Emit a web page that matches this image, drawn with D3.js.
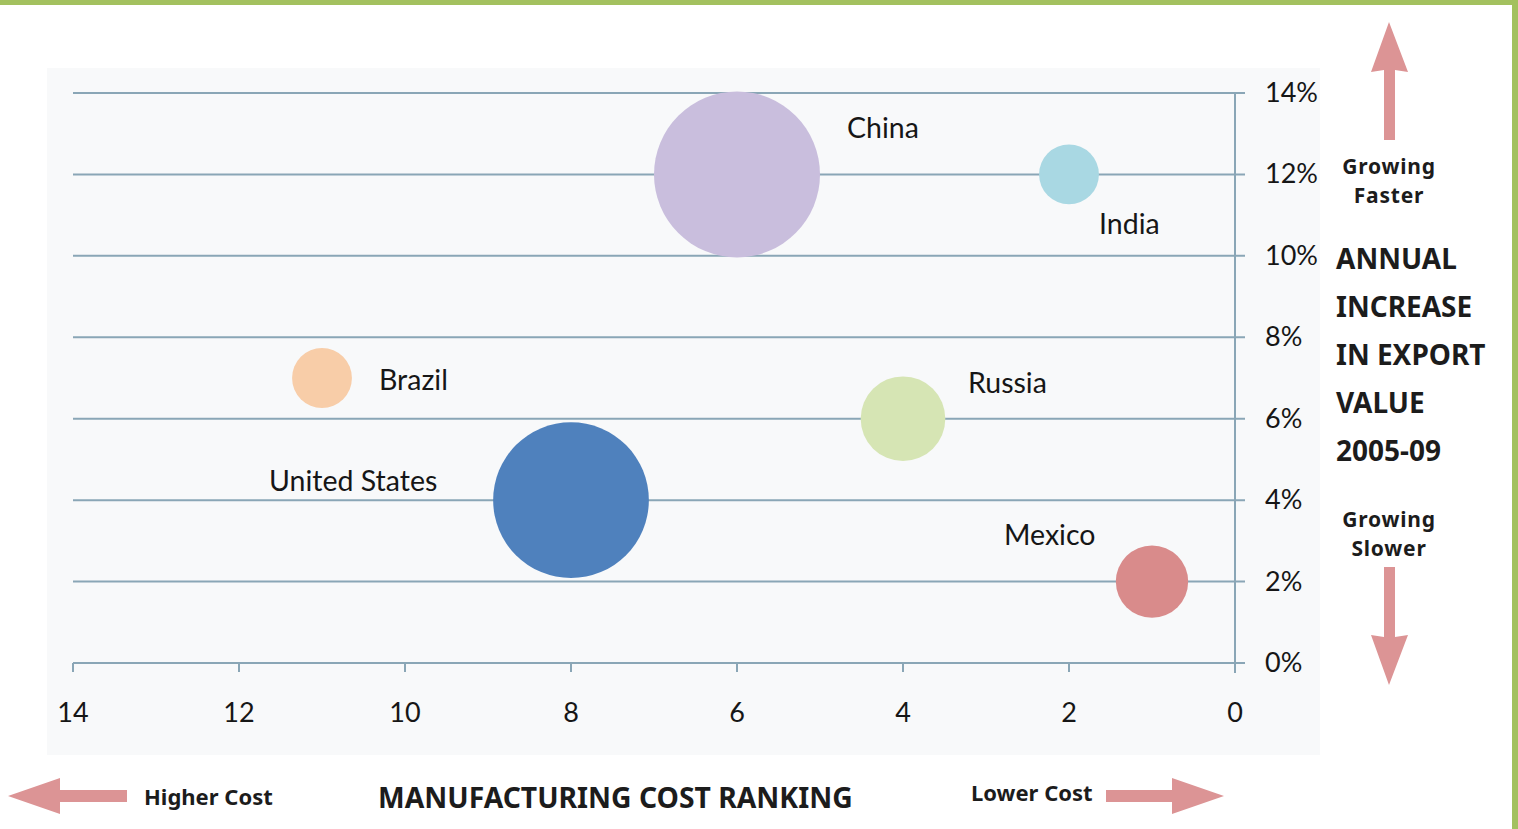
<!DOCTYPE html>
<html>
<head>
<meta charset="utf-8">
<script src="https://cdn.jsdelivr.net/npm/d3@7"></script>
<style>
  body { margin: 0; background: #fff; }
  svg { display: block; }
</style>
</head>
<body>
<script>
// bubble chart: manufacturing cost ranking vs export growth

const countries = ['China', 'India', 'Brazil', 'Russia', 'United States', 'Mexico']
const costRank = [6, 2, 11, 4, 8, 1]
const exportGrowth = [12, 12, 7, 6, 4, 2]
const bubbleSize = [100, 13, 13, 26, 88, 19]
const colors = ['#c9bedd', '#a9d8e3', '#f8cda8', '#d6e5b4', '#4f81bd', '#d98b8b']
const xTicks = [14, 12, 10, 8, 6, 4, 2, 0]
const yTicks = [0, 2, 4, 6, 8, 10, 12, 14]
// label offsets from the bubble centre
const labelDx = [110, 30, 57, 65, -302, -148]
const labelDy = [-36, 60, 12, -26, -9, -37]

const W = 1518, H = 829
const svg = d3.select('body').append('svg').attr('width', W).attr('height', H)

const green = '#a3c15f'
const pink = '#dc9495'
const grid = '#8aa6b6'

// frame
svg.append('rect').attr('x', 0).attr('y', 0).attr('width', W).attr('height', 5).attr('fill', green)
svg.append('rect').attr('x', 1512).attr('y', 0).attr('width', 6).attr('height', H).attr('fill', green)

// plot background
svg.append('rect').attr('x', 47).attr('y', 68).attr('width', 1273).attr('height', 687).attr('fill', '#f8f9fa')

const x = d3.scaleLinear().domain([14, 0]).range([73, 1235])
const y = d3.scaleLinear().domain([0, 14]).range([663, 93])
const r = d3.scaleSqrt().domain([0, d3.max(bubbleSize)]).range([0, 83])

// horizontal gridlines
svg.append('g').selectAll('line').data(yTicks).enter().append('line')
  .attr('x1', x(14)).attr('x2', x(0) + 10)
  .attr('y1', d => y(d)).attr('y2', d => y(d))
  .attr('stroke', grid).attr('stroke-width', 2)

// y axis line
svg.append('line').attr('x1', x(0)).attr('x2', x(0)).attr('y1', y(14)).attr('y2', y(0) + 10)
  .attr('stroke', grid).attr('stroke-width', 2)

// x ticks
svg.append('g').selectAll('line').data(xTicks).enter().append('line')
  .attr('x1', d => x(d)).attr('x2', d => x(d))
  .attr('y1', y(0)).attr('y2', y(0) + 9)
  .attr('stroke', grid).attr('stroke-width', 2)

const tickFont = 'Lato, "Open Sans", sans-serif'
svg.append('g').selectAll('text').data(yTicks).enter().append('text')
  .attr('x', 1265).attr('y', d => y(d) + 9)
  .attr('font-family', tickFont).attr('font-size', 27).attr('fill', '#161616')
  .text(d => d + '%')

svg.append('g').selectAll('text').data(xTicks).enter().append('text')
  .attr('x', d => x(d)).attr('y', y(0) + 59)
  .attr('text-anchor', 'middle')
  .attr('font-family', tickFont).attr('font-size', 27).attr('fill', '#161616')
  .text(d => d)

// bubbles
const idx = d3.range(countries.length)
svg.append('g').selectAll('circle').data(idx).enter().append('circle')
  .attr('cx', i => x(costRank[i]))
  .attr('cy', i => y(exportGrowth[i]))
  .attr('r', i => r(bubbleSize[i]))
  .attr('fill', i => colors[i])

svg.append('g').selectAll('text').data(idx).enter().append('text')
  .attr('x', i => x(costRank[i]) + labelDx[i])
  .attr('y', i => y(exportGrowth[i]) + labelDy[i])
  .attr('font-family', tickFont).attr('font-size', 28.5).attr('fill', '#161616')
  .text(i => countries[i])

// side annotations
const boldFont = '"Noto Sans", "DejaVu Sans", sans-serif'
function label (tx, ty, txt, size, anchor, spacing) {
  svg.append('text').attr('x', tx).attr('y', ty)
    .attr('font-family', boldFont).attr('font-weight', 'bold')
    .attr('font-size', size).attr('fill', '#1c1c1c')
    .attr('letter-spacing', spacing || 0)
    .attr('text-anchor', anchor || 'start')
    .text(txt)
}
label(1389, 174, 'Growing', 21, 'middle', 0.8)
label(1389, 203, 'Faster', 21, 'middle', 0.8)
const titleLines = ['ANNUAL', 'INCREASE', 'IN EXPORT', 'VALUE', '2005-09']
titleLines.forEach((t, i) => label(1336, 269 + i * 48, t, 28))
label(1389, 527, 'Growing', 21, 'middle', 0.8)
label(1389, 556, 'Slower', 21, 'middle', 0.8)
label(144, 805, 'Higher Cost', 22)
label(378, 808, 'MANUFACTURING COST RANKING', 28.3)
label(971, 801, 'Lower Cost', 22)

// arrows
function arrow (pts) {
  svg.append('path').attr('d', d3.line()(pts) + 'Z').attr('fill', pink)
}
// up
arrow([[1384, 140], [1384, 70], [1371, 72], [1389, 22], [1408, 72], [1395, 70], [1395, 140]])
// down
arrow([[1384, 567], [1384, 637], [1371, 635], [1389, 685], [1408, 635], [1395, 637], [1395, 567]])
// left
arrow([[127, 790], [60, 790], [60, 778], [8, 796], [60, 814], [60, 802], [127, 802]])
// right
arrow([[1106, 790], [1172, 790], [1172, 778], [1224, 796], [1172, 814], [1172, 802], [1106, 802]])
</script>
</body>
</html>
